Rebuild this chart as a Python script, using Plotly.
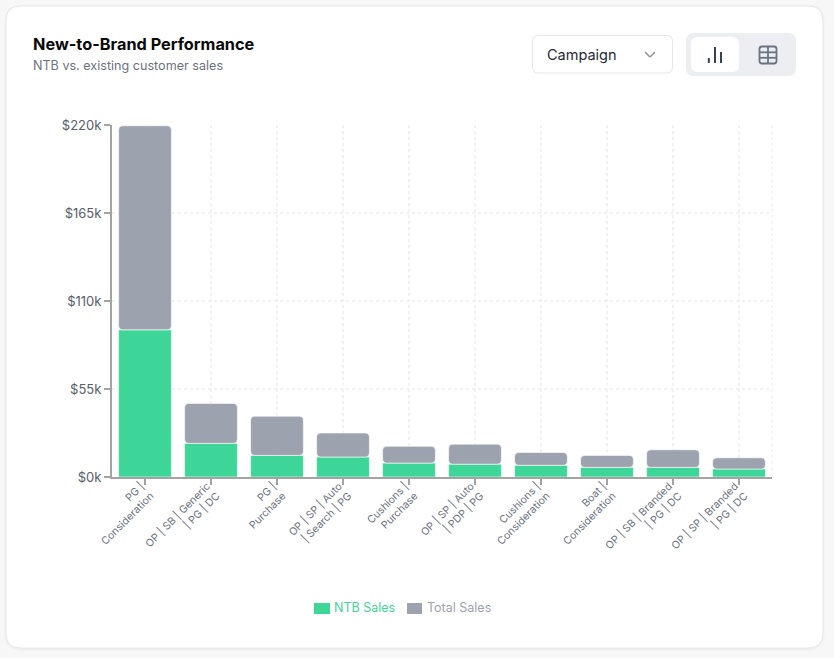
import plotly.graph_objects as go

# Values
campaigns = ["PG |<br>Consideration", "OP | SB | Generic<br>| PG | DC", "PG |<br>Purchase",
             "OP | SP | Auto<br>| Search | PG", "Cushions |<br>Purchase", "OP | SP | Auto<br>| PDP | PG",
             "Cushions |<br>Consideration", "Boat |<br>Consideration", "OP | SB | Branded<br>| PG | DC",
             "OP | SP | Branded<br>| PG | DC"]
ntb_sales = [92000, 21000, 13500, 12500, 8700, 8000, 7300, 6000, 6000, 5000]
total_sales = [127500, 25000, 24500, 15000, 10500, 12500, 8000, 7500, 11000, 7000]
y_ticks = [0, 55000, 110000, 165000, 220000]
y_labels = ["$0k", "$55k", "$110k", "$165k", "$220k"]

W, H = 834, 658
GREEN = "#3dd598"
GREY = "#9ca3af"
FONT = "Inter"

def px_x(x):
    return x / W

def px_y(y):
    return 1 - y / H

def rrect(x0, y0, x1, y1, r):
    # rounded rectangle in pixels
    x0, x1 = px_x(x0), px_x(x1)
    y0, y1 = px_y(y0), px_y(y1)
    rx, ry = r / W, r / H
    return (f"M{x0 + rx},{y0} L{x1 - rx},{y0} Q{x1},{y0} {x1},{y0 - ry} L{x1},{y1 + ry} Q{x1},{y1} {x1 - rx},{y1} "
            f"L{x0 + rx},{y1} Q{x0},{y1} {x0},{y1 + ry} L{x0},{y0 - ry} Q{x0},{y0} {x0 + rx},{y0} Z")

def box(x0, y0, x1, y1, r, fill, line=None, width=1, layer="below", opacity=1):
    return dict(type="path", path=rrect(x0, y0, x1, y1, r), xref="paper", yref="paper", fillcolor=fill,
                line=dict(color=line or fill, width=width if line else 0), layer=layer, opacity=opacity)

def seg(x0, y0, x1, y1, color, width=1.5, dash=None, layer="above"):
    return dict(type="line", xref="paper", yref="paper", x0=px_x(x0), y0=px_y(y0), x1=px_x(x1), y1=px_y(y1),
                line=dict(color=color, width=width, dash=dash), layer=layer)

def label(x, y, text, size, color, anchor="left"):
    # annotations carry 2px of padding, xshift takes it back
    return dict(xref="paper", yref="paper", x=px_x(x), y=px_y(y), text=text, showarrow=False, xanchor=anchor,
                yanchor="middle", xshift=-2, font=dict(family=FONT, size=size, color=color))

fig = go.Figure()
# grey sits on top of the green part, each keeps its own rounded top
fig.add_bar(x=campaigns, y=ntb_sales, name="NTB Sales", marker=dict(color=GREEN, line=dict(color="white", width=0.6)))
fig.add_bar(x=campaigns, y=total_sales, base=ntb_sales, name="Total Sales",
            marker=dict(color=GREY, line=dict(color="white", width=0.6)))

shapes = [
    # card and soft shadow
    box(4, 5, 825, 651, 17, "#000000", opacity=0.012),
    box(5, 5, 824, 650, 16, "#000000", opacity=0.02),
    box(6, 6, 823, 648, 15, "#ffffff", line="#e8e8e8"),
    # dropdown
    box(532.5, 35.5, 672.5, 73, 6, "#ffffff", line="#e5e7eb"),
    seg(645, 52, 650, 57, "#8b919c"), seg(650, 57, 655, 52, "#8b919c"),
    # view toggle
    box(686, 33, 796, 76, 8, "#eceef2"),
    box(691, 37, 739, 72, 7, "#ffffff"),
    seg(708.8, 58, 708.8, 63, "#374151", 2), seg(715, 47, 715, 63, "#374151", 2), seg(721, 52, 721, 63, "#374151", 2),
    box(759.5, 46.5, 776.5, 63.5, 2.5, "#eceef2", line="#6b7280", width=1.8),
    seg(760, 52.3, 776, 52.3, "#6b7280", 1.8), seg(760, 57.8, 776, 57.8, "#6b7280", 1.8),
    seg(768, 47, 768, 63, "#6b7280", 1.8),
    # right edge of the grid
    seg(772, 125, 772, 477, "#f1f1f1", 1.5, "3px,3px", "below"),
    # legend swatches
    box(314, 603, 330, 614, 0, GREEN),
    box(407, 603, 422, 614, 0, GREY),
]

annotations = [
    label(33, 44, "<b>New-to-Brand Performance</b>", 16.3, "#0a0a0a"),
    label(33, 65.5, "NTB vs. existing customer sales", 12.6, "#6b7280"),
    label(547, 55, "Campaign", 14.5, "#1f2937"),
    label(334, 607.5, "NTB Sales", 12.5, GREEN),
    label(427, 607.5, "Total Sales", 12.5, GREY),
]

fig.update_layout(
    width=W, height=H, margin=dict(l=0, r=0, t=0, b=0), paper_bgcolor="#f7f7f7", plot_bgcolor="rgba(0,0,0,0)",
    barmode="overlay", bargap=0.2, barcornerradius=4, showlegend=False,
    font=dict(family=FONT), shapes=shapes, annotations=annotations,
)
fig.update_traces(opacity=1)
fig.update_xaxes(domain=[px_x(112), px_x(772)], automargin=False, tickangle=-45, ticks="outside", ticklen=6,
                 tickwidth=1.5, tickcolor="#a3a3a3", showline=True, linecolor="#a3a3a3", linewidth=2, showgrid=True,
                 gridcolor="#f1f1f1", griddash="3px,3px", gridwidth=1.5, zeroline=False,
                 ticklabelstandoff=-9, ticklabelshift=-4,
                 tickfont=dict(family=FONT, size=10.5, color="#6b7280"))
fig.update_yaxes(domain=[px_y(477), px_y(125)], automargin=False, range=[0, 220000], tickvals=y_ticks,
                 ticktext=y_labels, ticks="outside", ticklen=6, tickwidth=1.5, tickcolor="#a3a3a3", showline=True,
                 linecolor="#a3a3a3", linewidth=2, showgrid=True, gridcolor="#f1f1f1", griddash="3px,3px",
                 gridwidth=1.5, zeroline=False, tickfont=dict(family=FONT, size=13, color="#565e6c"))

fig.write_html("out.html", config=dict(displayModeBar=False),
               post_script="document.body.style.margin='0';document.body.style.background='#f7f7f7';")
